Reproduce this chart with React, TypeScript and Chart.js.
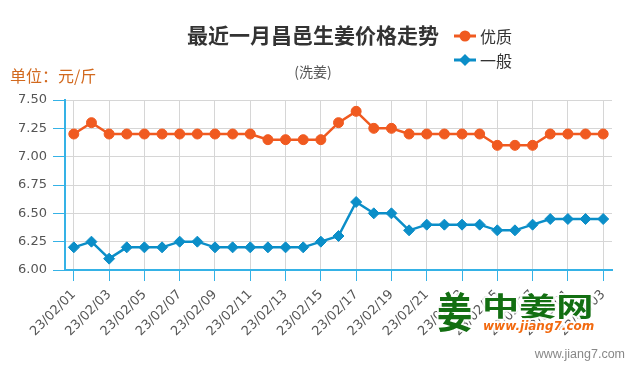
import React, { useEffect, useRef } from "react";
import { Chart, registerables } from "chart.js";

Chart.register(...registerables);

const dates = [
  "23/02/01", "23/02/02", "23/02/03", "23/02/04", "23/02/05", "23/02/06", "23/02/07", "23/02/08",
  "23/02/09", "23/02/10", "23/02/11", "23/02/12", "23/02/13", "23/02/14", "23/02/15", "23/02/16",
  "23/02/17", "23/02/18", "23/02/19", "23/02/20", "23/02/21", "23/02/22", "23/02/23", "23/02/24",
  "23/02/25", "23/02/26", "23/02/27", "23/02/28", "23/03/01", "23/03/02", "23/03/03",
];

const premium = [
  7.2, 7.3, 7.2, 7.2, 7.2, 7.2, 7.2, 7.2, 7.2, 7.2, 7.2, 7.15, 7.15, 7.15, 7.15, 7.3,
  7.4, 7.25, 7.25, 7.2, 7.2, 7.2, 7.2, 7.2, 7.1, 7.1, 7.1, 7.2, 7.2, 7.2, 7.2,
];

const ordinary = [
  6.2, 6.25, 6.1, 6.2, 6.2, 6.2, 6.25, 6.25, 6.2, 6.2, 6.2, 6.2, 6.2, 6.2, 6.25, 6.3,
  6.6, 6.5, 6.5, 6.35, 6.4, 6.4, 6.4, 6.4, 6.35, 6.35, 6.4, 6.45, 6.45, 6.45, 6.45,
];

const seriesNames = ["优质", "一般"];
const titleText = "最近一月昌邑生姜价格走势";
const subtitleText = "(洗姜)";
const unitText = "单位：元/斤";
const yMin = 6.0;
const yMax = 7.5;
const yStep = 0.25;

const ORANGE = "#f05a20";
const BLUE = "#0b8ec8";
const AXIS = "#35b2e6";
const GRID = "#d6d6d6";

const overlayPlugin = {
  id: "overlay",
  afterDraw(chart: any) {
    const ctx = chart.ctx as CanvasRenderingContext2D;
    ctx.save();
    // Title
    ctx.fillStyle = "#333333";
    ctx.font = "bold 21px 'Noto Sans CJK SC'";
    ctx.textAlign = "center";
    ctx.textBaseline = "middle";
    ctx.fillText(titleText, 313, 35);
    // Subtitle
    ctx.fillStyle = "#555555";
    ctx.font = "14px 'Noto Sans CJK SC'";
    ctx.fillText(subtitleText, 313, 72);
    // Unit
    ctx.fillStyle = "#d2691e";
    ctx.font = "16px 'Noto Sans CJK SC'";
    ctx.textAlign = "left";
    ctx.fillText(unitText, 10, 76);

    // Legend
    chart.data.datasets.forEach((ds: any, i: number) => {
      const y = 36 + i * 24;
      ctx.strokeStyle = ds.borderColor;
      ctx.fillStyle = ds.borderColor;
      ctx.lineWidth = 3;
      ctx.beginPath();
      ctx.moveTo(454, y);
      ctx.lineTo(476, y);
      ctx.stroke();
      ctx.beginPath();
      if (ds.pointStyle === "rectRot") {
        ctx.moveTo(465, y - 6);
        ctx.lineTo(471, y);
        ctx.lineTo(465, y + 6);
        ctx.lineTo(459, y);
        ctx.closePath();
      } else {
        ctx.arc(465, y, 5.5, 0, Math.PI * 2);
      }
      ctx.fill();
      ctx.fillStyle = "#333333";
      ctx.font = "16px 'Noto Sans CJK SC'";
      ctx.textAlign = "left";
      ctx.fillText(ds.label, 480, y + 1);
    });

    // Watermark logo
    ctx.lineJoin = "round";
    ctx.textAlign = "left";
    ctx.strokeStyle = "rgba(255,255,255,0.9)";
    ctx.lineWidth = 4;
    ctx.font = "bold 40px 'Noto Sans CJK SC'";
    ctx.save();
    ctx.translate(437, 312);
    ctx.scale(0.88, 1.05);
    ctx.strokeText("姜", 0, 0);
    ctx.fillStyle = "#136f12";
    ctx.fillText("姜", 0, 0);
    ctx.restore();
    ctx.font = "bold 26px 'Noto Sans CJK SC'";
    ctx.save();
    ctx.translate(482, 306);
    ctx.scale(1.43, 1);
    ctx.strokeText("中姜网", 0, 0);
    ctx.fillStyle = "#136f12";
    ctx.fillText("中姜网", 0, 0);
    ctx.restore();
    ctx.font = "italic bold 12px 'DejaVu Sans'";
    ctx.strokeText("www.jiang7.com", 483, 327);
    ctx.fillStyle = "#f26a10";
    ctx.fillText("www.jiang7.com", 483, 327);

    // Footer site text
    ctx.font = "12.5px 'Liberation Sans'";
    ctx.fillStyle = "#888888";
    ctx.textAlign = "right";
    ctx.fillText("www.jiang7.com", 625, 355);
    ctx.restore();
  },
};

export default function App() {
  const canvasRef = useRef<HTMLCanvasElement | null>(null);

  useEffect(() => {
    const canvas = canvasRef.current;
    if (!canvas) return;
    const chart = new Chart(canvas, {
      type: "line",
      data: {
        labels: dates,
        datasets: [
          {
            label: seriesNames[0],
            data: premium,
            borderColor: ORANGE,
            backgroundColor: ORANGE,
            borderWidth: 2.5,
            pointStyle: "circle",
            pointRadius: 5,
            pointBorderWidth: 1,
            pointBackgroundColor: ORANGE,
            pointBorderColor: ORANGE,
            tension: 0,
          },
          {
            label: seriesNames[1],
            data: ordinary,
            borderColor: BLUE,
            backgroundColor: BLUE,
            borderWidth: 2.5,
            pointStyle: "rectRot",
            pointRadius: 5.5,
            pointBorderWidth: 1,
            pointBackgroundColor: BLUE,
            pointBorderColor: BLUE,
            tension: 0,
          },
        ],
      },
      options: {
        responsive: false,
        animation: false,
        devicePixelRatio: 1,
        layout: { padding: { top: 100, right: 23, left: 0, bottom: 0 } },
        plugins: {
          legend: { display: false },
          title: { display: false },
          tooltip: { enabled: false },
        },
        scales: {
          x: {
            type: "category",
            offset: true,
            afterBuildTicks: (scale: any) => {
              scale.ticks = scale.ticks.filter((_t: any, i: number) => i % 2 === 0);
            },
            afterFit: (scale: any) => {
              scale.height = 105;
            },
            grid: {
              color: GRID,
              lineWidth: 1,
              tickColor: AXIS,
              tickLength: 11,
              offset: false,
            },
            border: { color: AXIS, width: 2 },
            ticks: {
              autoSkip: false,
              minRotation: 45,
              maxRotation: 45,
              color: "#555555",
              padding: 6,
              font: { family: "'DejaVu Sans'", size: 13 },
            },
          },
          y: {
            min: yMin,
            max: yMax,
            afterFit: (scale: any) => {
              scale.width = 65;
            },
            grid: {
              color: GRID,
              lineWidth: 1,
              tickColor: AXIS,
              tickLength: 12,
            },
            border: { color: AXIS, width: 2 },
            ticks: {
              stepSize: yStep,
              color: "#555555",
              padding: 6,
              font: { family: "'DejaVu Sans'", size: 13 },
              callback: (v: any) => Number(v).toFixed(2),
            },
          },
        },
      },
      plugins: [overlayPlugin],
    });
    return () => chart.destroy();
  }, []);

  return (
    <div style={{ position: "absolute", left: 0, top: 0, width: 635, height: 375, background: "#fff" }}>
      <canvas ref={canvasRef} width={635} height={375} style={{ width: 635, height: 375 }} />
    </div>
  );
}
